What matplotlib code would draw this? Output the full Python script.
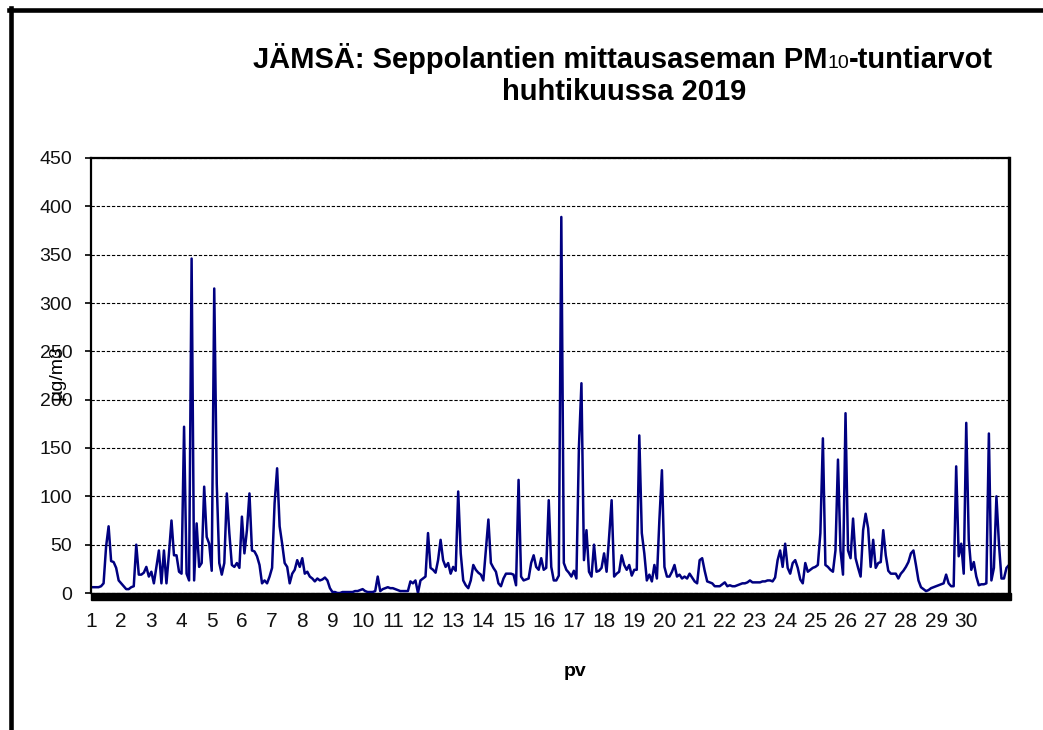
import numpy as np
import matplotlib
matplotlib.use("Agg")
import matplotlib.pyplot as plt
from matplotlib.lines import Line2D
from matplotlib.patches import Rectangle
from matplotlib.offsetbox import TextArea, HPacker, AnnotationBbox

plt.rcParams['font.family'] = ['Liberation Sans', 'DejaVu Sans']

# PM10 hourly values (µg/m3), read every 2nd hour, April 2019
pm10 = [
    6, 6, 6, 6, 7, 10, 48, 69, 33, 32, 26, 13,            # 1
    10, 7, 4, 4, 6, 7, 50, 19, 19, 21, 27, 17,            # 2
    22, 10, 27, 44, 10, 44, 10, 41, 75, 39, 39, 22,       # 3
    20, 172, 20, 13, 346, 13, 72, 27, 31, 110, 58, 51,    # 4
    23, 315, 113, 31, 19, 31, 103, 62, 29, 27, 31, 26,    # 5
    79, 41, 65, 103, 44, 43, 38, 29, 10, 13, 10, 17,      # 6
    26, 93, 129, 69, 51, 31, 27, 10, 20, 24, 34, 27,      # 7
    36, 20, 22, 17, 15, 12, 15, 13, 14, 16, 13, 5,        # 8
    1, 1, 0, 0, 1, 1, 1, 1, 1, 2, 2, 3,                   # 9
    4, 2, 1, 1, 1, 2, 17, 2, 4, 5, 6, 5,                  # 10
    5, 4, 3, 2, 2, 2, 2, 12, 10, 13, 0, 13,               # 11
    15, 17, 62, 26, 24, 21, 34, 55, 34, 27, 31, 20,       # 12
    27, 23, 105, 41, 13, 8, 5, 13, 29, 24, 21, 19,        # 13
    13, 44, 76, 31, 26, 22, 10, 7, 15, 20, 20, 20,        # 14
    19, 8, 117, 17, 13, 14, 15, 31, 39, 27, 24, 36,       # 15
    24, 26, 96, 27, 13, 13, 18, 389, 31, 24, 21, 17,      # 16
    23, 15, 151, 217, 34, 65, 22, 17, 50, 22, 23, 26,     # 17
    41, 22, 58, 96, 17, 20, 22, 39, 29, 24, 29, 18,       # 18
    24, 24, 163, 62, 41, 13, 19, 12, 29, 15, 76, 127,     # 19
    27, 17, 17, 22, 29, 17, 19, 15, 17, 15, 20, 16,       # 20
    12, 10, 34, 36, 23, 12, 11, 10, 7, 7, 7, 9,           # 21
    11, 7, 8, 7, 7, 8, 9, 10, 10, 11, 13, 11,             # 22
    11, 11, 11, 12, 12, 13, 13, 12, 16, 34, 44, 27,       # 23
    51, 26, 20, 31, 34, 26, 14, 10, 31, 22, 24, 26,       # 24
    27, 29, 62, 160, 29, 27, 24, 22, 44, 138, 44, 19,     # 25
    186, 44, 36, 77, 36, 26, 17, 65, 82, 67, 27, 55,      # 26
    26, 31, 32, 65, 39, 23, 20, 20, 20, 15, 20, 23,       # 27
    27, 32, 41, 44, 29, 13, 6, 4, 2, 3, 5, 6,             # 28
    7, 8, 9, 10, 19, 10, 7, 7, 131, 38, 51, 20,           # 29
    176, 55, 24, 32, 17, 8, 9, 9, 10, 165, 13, 26,        # 30
    100, 51, 15, 15, 26, 29,
]
days = [str(d) for d in range(1, 31)]
hours = np.arange(len(pm10)) * 2

fig = plt.figure(figsize=(10.43, 7.30), dpi=100)
ax = fig.add_axes([91 / 1043, 1 - 593 / 730, 918 / 1043, 435 / 730])

ax.plot(hours, pm10, color='#000080', lw=1.8, solid_joinstyle='round')

ax.set_xlim(0, hours[-1])
ax.set_ylim(0, 450)
ax.set_yticks(np.arange(0, 451, 50))
ax.set_xticks(np.arange(30) * 24, labels=days)
ax.tick_params(axis='y', labelsize=14, length=4.5, width=1.2, pad=9, direction='out')
ax.tick_params(axis='x', labelsize=15, length=0, pad=14)
for lab in ax.get_yticklabels() + ax.get_xticklabels():
    lab.set_color('#111111')

ax.yaxis.grid(True, color='black', linestyle=(0, (3, 1.6)), lw=0.8)
ax.set_axisbelow(True)

ax.spines['left'].set_linewidth(1.6)
ax.spines['top'].set_linewidth(1.6)
ax.spines['right'].set_linewidth(2.4)
ax.spines['bottom'].set_visible(False)
ax.add_patch(Rectangle((0, -7 / 435), 1.002, 7 / 435, transform=ax.transAxes,
                       color='black', clip_on=False))

# title with smaller "10"
tp = dict(fontsize=21, fontweight='bold', color='black')
parts = [TextArea('JÄMSÄ: Seppolantien mittausaseman PM', textprops=tp),
         TextArea('10', textprops=dict(fontsize=14, color='black')),
         TextArea('-tuntiarvot', textprops=tp)]
pack = HPacker(children=parts, align='baseline', pad=0, sep=0)
ab = AnnotationBbox(pack, (623 / 1043, 1 - 58 / 730), xycoords='figure fraction',
                    frameon=False, box_alignment=(0.5, 0.5), annotation_clip=False)
ax.add_artist(ab)
fig.text(624 / 1043, 1 - 92 / 730, 'huhtikuussa 2019', ha='center', va='center',
         fontsize=21, fontweight='bold')

fig.text(575 / 1043, 1 - 672 / 730, 'pv', ha='center', va='center',
         fontsize=14, fontweight='bold')
fig.text(57 / 1043, 1 - 373 / 730, 'µg/m3', rotation=90, ha='center', va='center',
         fontsize=14)

# outer frame (left and top)
fig.add_artist(Line2D([10.5 / 1043, 10.5 / 1043], [0, 1 - 8 / 730], color='black', lw=3.3))
fig.add_artist(Line2D([9 / 1043, 1], [1 - 10 / 730, 1 - 10 / 730], color='black', lw=3.3))

fig.savefig('out.png', dpi=100)
